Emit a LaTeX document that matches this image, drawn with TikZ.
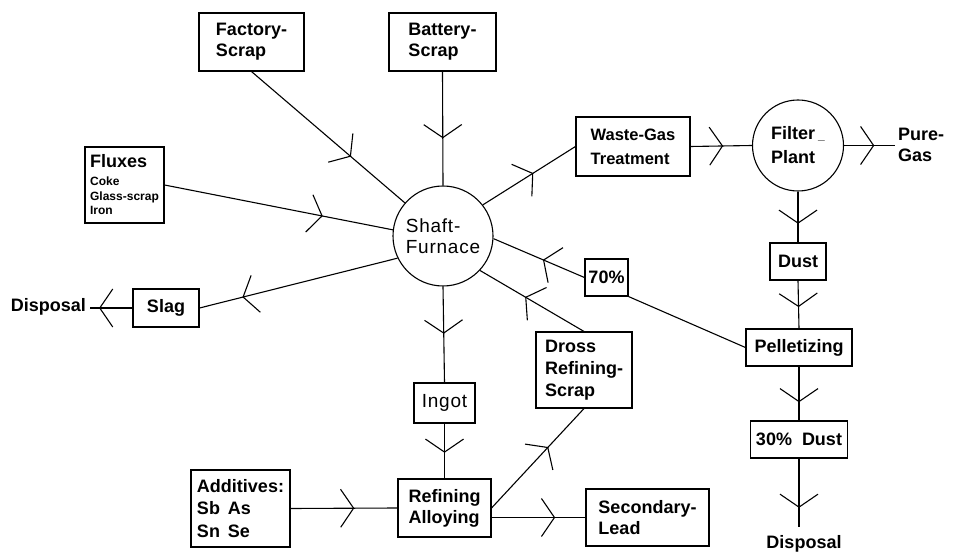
\documentclass[tikz,border=0pt]{standalone}
\usepackage{fontspec}
\setmainfont{Liberation Sans}
\newfontfamily\plainsp[LetterSpace=4]{Liberation Sans}
\usetikzlibrary{decorations.markings}
\tikzset{
  box/.style={draw, line width=1.1pt, inner sep=0pt, align=left,
    font=\bfseries\fontsize{18}{21}\selectfont},
  circ/.style={draw, circle, line width=1.1pt, inner sep=0pt, align=left},
  lbl/.style={inner sep=0pt, align=left, font=\bfseries\fontsize{18}{21}\selectfont},
  flow/.style={line width=1.1pt},
  midv/.style={postaction={decorate, decoration={markings,
    mark=at position #1 with {\draw[line width=1.1pt, line join=miter]
      (-13pt,19pt) -- (0pt,0pt) -- (-13pt,-19pt);}}}},
}
\begin{document}
\begin{tikzpicture}[x=1pt,y=-1pt]
\useasboundingbox (0,0) rectangle (956,553);
% nodes
\node[box, minimum width=105pt, minimum height=58pt] (fac) at (251.5,42) {Factory-\\Scrap};
\node[box, minimum width=107pt, minimum height=58pt] (bat) at (442.5,42) {Battery-\\Scrap};
\node[box, minimum width=79pt, minimum height=76pt, font=\bfseries\fontsize{12}{14.5}\selectfont] (flx) at (124.5,185)
  {{\fontsize{18}{18}\selectfont Fluxes}\\[3.5pt]Coke\\Glass-scrap\\Iron};
\node[circ, minimum size=100pt, font=\plainsp\fontsize{19}{21}\selectfont] (sh) at (443,236) {Shaft-\\Furnace};
\node[box, minimum width=114pt, minimum height=59pt, font=\bfseries\fontsize{16.5}{24}\selectfont] (wg) at (633,146.5) {Waste-Gas\\Treatment};
\node[circ, minimum size=91pt, font=\bfseries\fontsize{18}{24}\selectfont] (fp) at (798,145.5) {Filter\,{\fontsize{12}{12}\selectfont\_}\\Plant};
\node[lbl, anchor=north west] (pg) at (898,128) {Pure-\\Gas};
\coordinate (pgend) at (895,145.5);
\node[box, minimum width=56pt, minimum height=37pt] (du) at (798,261.5) {Dust};
\node[box, minimum width=106pt, minimum height=37pt] (pel) at (799,347.5) {Pelletizing};
\node[box, minimum width=97pt, minimum height=37pt] (d30) at (799,439.5) {30\%\ \ Dust};
\node[lbl, anchor=base] (dis2) at (804,548) {Disposal};
\coordinate (e2) at (799,527);
\node[box, minimum width=43pt, minimum height=37pt] (p70) at (606.5,277.5) {70\%};
\node[box, minimum width=96pt, minimum height=76pt, font=\bfseries\fontsize{18}{22}\selectfont] (dr) at (584,370) {Dross\\Refining-\\Scrap};
\node[box, minimum width=61pt, minimum height=40pt, font=\plainsp\fontsize{19}{21}\selectfont] (ing) at (444.5,403) {Ingot};
\node[box, minimum width=93pt, minimum height=58pt] (ref) at (444.5,508) {Refining\\Alloying};
\node[box, minimum width=99pt, minimum height=77pt, font=\bfseries\fontsize{18}{22.5}\selectfont] (add) at (240.5,508.5) {Additives:\\Sb\hspace{8pt}As\\Sn\hspace{8pt}Se};
\node[box, minimum width=123pt, minimum height=57pt] (sec) at (647.5,517.5) {Secondary-\\Lead};
\node[box, minimum width=66pt, minimum height=38pt] (slag) at (166,308) {Slag};
\node[lbl, anchor=base east] (dis1) at (86,312) {Disposal};
\coordinate (e1) at (90,308);
% connectors
\draw[flow, midv=0.645] (fac.south) -- (sh.139);
\draw[flow, midv=0.58] (bat.south) -- (sh.north);
\draw[flow, midv=0.69] (flx.east) -- (sh.173);
\draw[flow, midv=0.78] (sh.206) -- (slag.east);
\draw[flow, midv=0.77] (slag.west) -- (e1);
\draw[flow, midv=0.485] (sh.south) -- (ing.north);
\draw[flow, midv=0.52] (ing.south) -- (ref.north);
\draw[flow, midv=0.59] (add.east) -- (ref.west);
\draw[flow, midv=0.67] (ref.east |- sec.west) -- (sec.west);
\draw[flow, midv=0.61] (ref.east) -- (dr.south);
\draw[flow, midv=0.56] (dr.north) -- (sh.-43);
\draw[flow, midv=0.45] (p70.west) -- (sh.-3.5);
\draw[flow] (p70.south east) -- (pel.west);
\draw[flow, midv=0.54] (sh.38.7) -- (wg.west);
\draw[flow, midv=0.52] (wg.east) -- (fp.west);
\draw[flow, midv=0.58] (fp.east) -- (pgend);
\draw[flow, midv=0.62] (fp.south) -- (du.north);
\draw[flow, midv=0.54] (du.south) -- (pel.north);
\draw[flow, midv=0.65] (pel.south) -- (d30.north);
\draw[flow, midv=0.71] (d30.south) -- (e2);
\end{tikzpicture}
\end{document}
